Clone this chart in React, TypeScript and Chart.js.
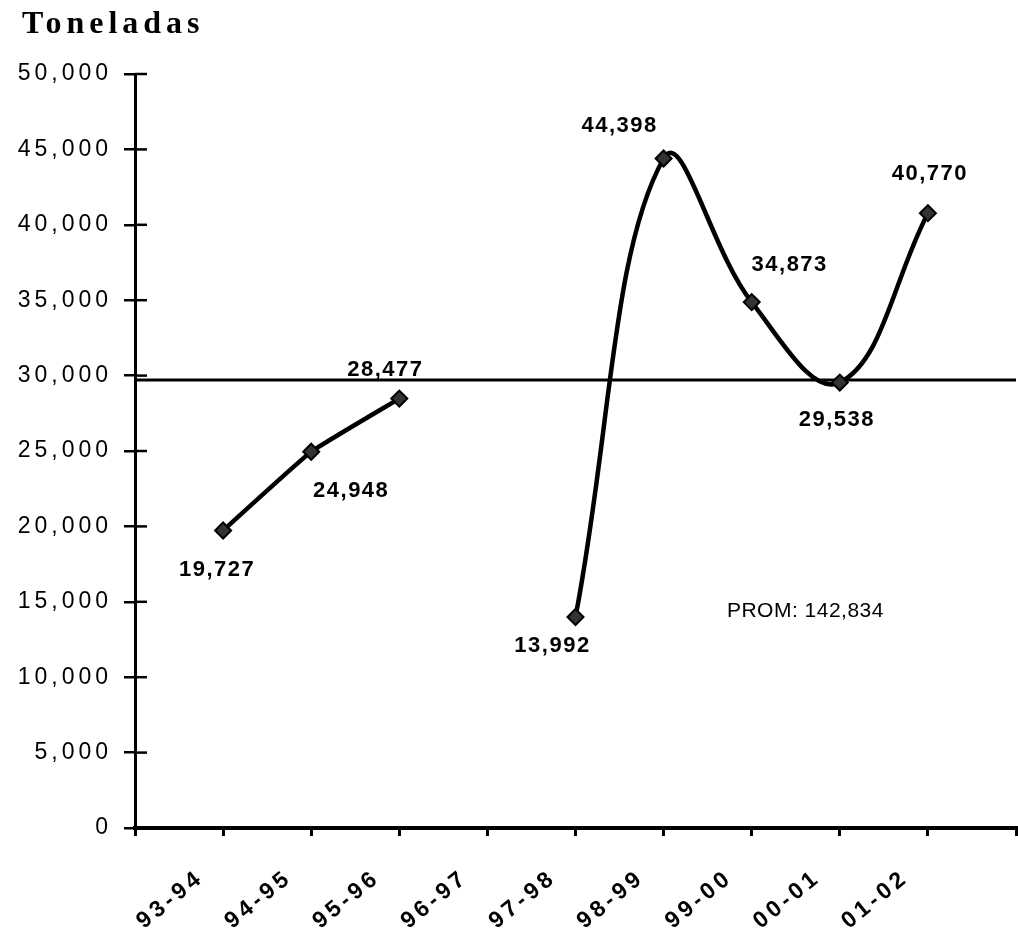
import React, { useEffect, useRef } from 'react';
import { Chart, registerables } from 'chart.js';

Chart.register(...registerables);

// ---- data ----
const categories = ['93-94', '94-95', '95-96', '96-97', '97-98', '98-99', '99-00', '00-01', '01-02'];
const tonnes: (number | null)[] = [19727, 24948, 28477, null, 13992, 44398, 34873, 29538, 40770];
const valueLabels = ['19,727', '24,948', '28,477', '', '13,992', '44,398', '34,873', '29,538', '40,770'];
const averageLevel = 29700;
const averageText = 'PROM: 142,834';
const axisTitle = 'Toneladas';
const yMin = 0;
const yMax = 50000;
const yStep = 5000;

// ---- style / placement (not data) ----
const labelOffsets: [number, number][] = [
  [-6, 39], [40, 39], [-14, -29], [0, 0], [-23, 29], [-44, -33], [38, -37], [-3, 37], [2, -39],
];
const promAnchor = { index: 7.61, value: 14400 };
const splitIndex = 3; // the gap between the two runs of the series

const axisLabels = ['', ...categories, ''];
const earlyValues = [null, ...tonnes.map((v, i) => (i < splitIndex ? v : null)), null];
const lateValues = [null, ...tonnes.map((v, i) => (i > splitIndex ? v : null)), null];
const averageValues = axisLabels.map(() => averageLevel);

const W = 1026;
const H = 937;

const pointStyleOpts = {
  borderColor: '#000',
  borderWidth: 4.5,
  spanGaps: false,
  pointStyle: 'rectRot',
  pointRadius: 8,
  pointBackgroundColor: '#333',
  pointBorderColor: '#000',
  pointBorderWidth: 2,
  fill: false,
};

export default function App() {
  const ref = useRef<HTMLCanvasElement | null>(null);

  useEffect(() => {
    const canvas = ref.current;
    if (!canvas) return;

    const decorPlugin = {
      id: 'decor',
      beforeDraw(chart: any) {
        chart.ctx.letterSpacing = '4px';
      },
      beforeDatasetsDraw(chart: any) {
        const ctx = chart.ctx;
        ctx.letterSpacing = '0px';
        const ys = chart.scales.y;
        const left = chart.chartArea.left;
        ctx.save();
        ctx.strokeStyle = '#000';
        ctx.lineWidth = 2.5;
        ys.ticks.forEach((t: any) => {
          const py = ys.getPixelForValue(t.value);
          ctx.beginPath();
          ctx.moveTo(left, py);
          ctx.lineTo(left + 12, py);
          ctx.stroke();
        });
        ctx.restore();
      },
      afterDraw(chart: any) {
        const ctx = chart.ctx;
        const xs = chart.scales.x;
        const ys = chart.scales.y;
        ctx.save();
        // title
        ctx.letterSpacing = '5px';
        ctx.fillStyle = '#000';
        ctx.font = 'bold 32px "Liberation Serif", serif';
        ctx.textAlign = 'left';
        ctx.textBaseline = 'alphabetic';
        ctx.fillText(axisTitle, 22, 33);

        // value labels
        ctx.letterSpacing = '1.5px';
        ctx.font = 'bold 22px "Liberation Sans", Arial, sans-serif';
        ctx.textAlign = 'center';
        ctx.textBaseline = 'middle';
        valueLabels.forEach((txt, i) => {
          const v = tonnes[i];
          if (!txt || v == null) return;
          const [dx, dy] = labelOffsets[i];
          ctx.fillText(txt, xs.getPixelForValue(i + 1) + dx, ys.getPixelForValue(v) + dy);
        });

        // average annotation
        ctx.letterSpacing = '0.5px';
        ctx.font = '21px "Liberation Sans", Arial, sans-serif';
        ctx.fillText(
          averageText,
          xs.getPixelForValue(promAnchor.index),
          ys.getPixelForValue(promAnchor.value)
        );
        ctx.restore();
        ctx.letterSpacing = '0px';
      },
    };

    const chart = new Chart(canvas, {
      type: 'line',
      data: {
        labels: axisLabels,
        datasets: [
          { label: 'Toneladas 93-96', data: earlyValues, tension: 0.12, ...pointStyleOpts },
          { label: 'Toneladas 97-02', data: lateValues, tension: 0.4, ...pointStyleOpts },
          {
            label: 'Promedio',
            data: averageValues,
            borderColor: '#000',
            borderWidth: 3,
            pointRadius: 0,
            tension: 0,
            fill: false,
          },
        ],
      },
      options: {
        responsive: false,
        animation: false,
        layout: { padding: { top: 74, right: 0, left: 0, bottom: 0 } },
        plugins: {
          legend: { display: false },
          title: { display: false },
          tooltip: { enabled: false },
        },
        scales: {
          x: {
            type: 'category',
            offset: false,
            afterFit(scale: any) {
              scale.height = 109;
              scale.paddingLeft = 0;
              scale.paddingRight = 0;
            },
            border: { display: true, color: '#000', width: 4 },
            grid: {
              display: true,
              drawOnChartArea: false,
              drawTicks: true,
              tickLength: 8,
              color: '#000',
              lineWidth: 3,
            },
            ticks: {
              color: '#000',
              font: { family: '"Liberation Sans", Arial, sans-serif', size: 23, weight: 'bold' },
              minRotation: 39,
              maxRotation: 39,
              autoSkip: false,
              padding: 28,
              labelOffset: -22,
            },
          },
          y: {
            min: yMin,
            max: yMax,
            afterFit(scale: any) {
              scale.width = 135;
              scale.paddingTop = 0;
              scale.paddingBottom = 0;
            },
            border: { display: true, color: '#000', width: 3 },
            grid: {
              display: true,
              drawOnChartArea: false,
              drawTicks: true,
              tickLength: 11,
              color: '#000',
              lineWidth: 2.5,
            },
            ticks: {
              stepSize: yStep,
              color: '#000',
              padding: 12,
              font: { family: '"Liberation Sans", Arial, sans-serif', size: 23 },
              callback: (v: any) => Number(v).toLocaleString('en-US'),
            },
          },
        },
      },
      plugins: [decorPlugin],
    } as any);

    return () => chart.destroy();
  }, []);

  return (
    <div
      style={{
        position: 'absolute',
        left: 0,
        top: 0,
        width: 1018,
        height: 937,
        overflow: 'hidden',
        background: '#fff',
      }}
    >
      <canvas ref={ref} width={W} height={H} style={{ display: 'block' }} />
    </div>
  );
}
